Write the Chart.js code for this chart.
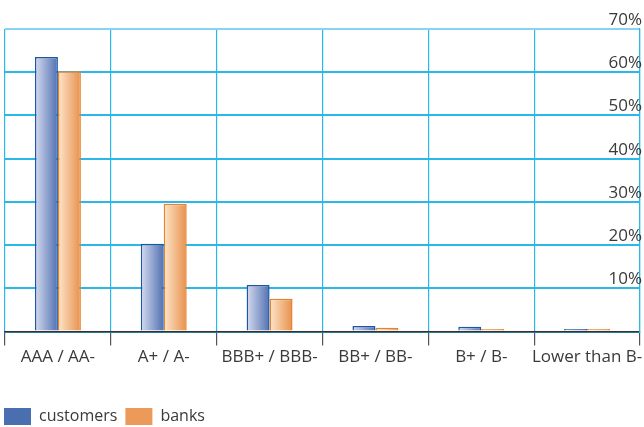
<!DOCTYPE html>
<html>
<head>
<meta charset="utf-8">
<script src="https://cdn.jsdelivr.net/npm/chart.js@4"></script>
<style>
  html, body { margin: 0; padding: 0; background: #fff; }
  #wrap { width: 644px; height: 427px; }
</style>
</head>
<body>
<div id="wrap"><canvas id="ratingChart" width="644" height="427"></canvas></div>
<script>
const categories = ['AAA / AA-', 'A+ / A-', 'BBB+ / BBB-', 'BB+ / BB-', 'B+ / B-', 'Lower than B-'];
const customers = [63.5, 20.3, 10.8, 1.3, 1.1, 0.6];
const banks = [60.2, 29.6, 7.6, 0.9, 0.6, 0.6];
const yTicks = [0, 10, 20, 30, 40, 50, 60, 70];

const CAT_PCT = 0.434;
const GRID = '#2ab8e8';
const TEXT = '#3a3a3a';
const FONT = { family: 'Open Sans', size: 17 };

// horizontal gradient across each bar, light on the left side
function barFill(light, dark) {
    return (ctx) => {
        const x = ctx.chart.scales.x;
        if (!x || ctx.type !== 'data') return dark;
        const band = x.width / categories.length * CAT_PCT;
        const w = band / 2;
        const left = x.getPixelForValue(ctx.dataIndex) - band / 2 + ctx.datasetIndex * w;
        const g = ctx.chart.ctx.createLinearGradient(left, 0, left + w, 0);
        g.addColorStop(0, light);
        g.addColorStop(1, dark);
        return g;
    };
}

const legendColors = ['#4a6fb1', '#eb9a5a'];

// pull the legend to the lower left corner of the canvas
const legendShift = {
    id: 'legendShift',
    afterLayout(chart) {
        const lg = chart.legend;
        lg.left -= 9;
        lg.right -= 9;
        lg.top += 8;
        lg.bottom += 8;
    }
};

new Chart(document.getElementById('ratingChart').getContext('2d'), {
    type: 'bar',
    data: {
        labels: categories,
        datasets: [{
            label: 'customers',
            data: customers,
            backgroundColor: barFill('#d6dbef', '#5171b2'),
            borderColor: '#1d56a3',
            borderWidth: 1.5,
            barPercentage: 1,
            categoryPercentage: CAT_PCT
        }, {
            label: 'banks',
            data: banks,
            backgroundColor: barFill('#fde6cc', '#e8904b'),
            borderColor: '#e5822c',
            borderWidth: 1.5,
            barPercentage: 1,
            categoryPercentage: CAT_PCT
        }]
    },
    plugins: [legendShift],
    options: {
        responsive: false,
        animation: false,
        layout: {
            padding: { top: 29, left: 5, right: 0, bottom: 0 }
        },
        plugins: {
            tooltip: { enabled: false },
            legend: {
                position: 'bottom',
                align: 'start',
                labels: {
                    boxWidth: 27,
                    boxHeight: 17,
                    padding: 8,
                    color: TEXT,
                    font: { family: 'Open Sans', size: 16 },
                    generateLabels: (chart) => chart.data.datasets.map((ds, i) => ({
                        text: ds.label,
                        fillStyle: legendColors[i],
                        strokeStyle: legendColors[i],
                        lineWidth: 0,
                        fontColor: TEXT,
                        datasetIndex: i
                    }))
                }
            }
        },
        scales: {
            x: {
                offset: true,
                afterFit: (scale) => { scale.height += 24; },
                grid: {
                    offset: true,
                    color: GRID,
                    lineWidth: 1.2,
                    tickColor: '#555',
                    tickLength: 14
                },
                border: { color: '#333', width: 1.5 },
                ticks: {
                    color: TEXT,
                    padding: 1,
                    maxRotation: 0,
                    autoSkip: false,
                    font: FONT
                }
            },
            y: {
                position: 'right',
                min: 0,
                max: 70,
                afterBuildTicks: (scale) => {
                    scale.ticks = yTicks.map(v => ({ value: v }));
                },
                grid: {
                    drawTicks: false,
                    color: (c) => c.tick && c.tick.value === 70 ? '#86d4f1' : GRID,
                    lineWidth: 2
                },
                border: { color: GRID, width: 1.2 },
                ticks: {
                    mirror: true,
                    padding: 2,
                    labelOffset: -9,
                    color: TEXT,
                    font: FONT,
                    callback: (v) => v === 0 ? '' : v + '%'
                }
            }
        }
    }
});
</script>
</body>
</html>
